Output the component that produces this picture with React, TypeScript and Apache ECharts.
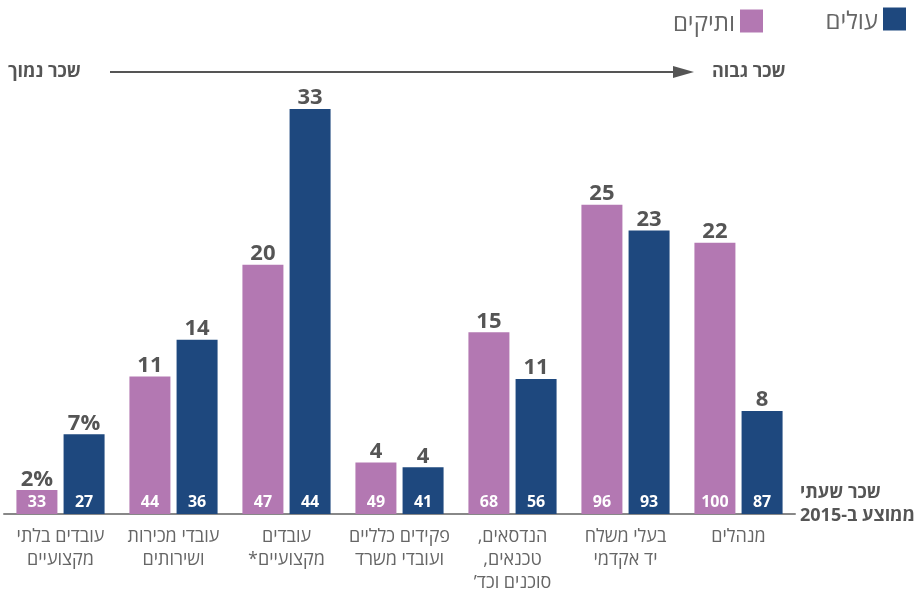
import React, { useEffect, useRef } from "react";
import * as echarts from "echarts";

const categories = [
  "עובדים בלתי\nמקצועיים",
  "עובדי מכירות\nושירותים",
  "עובדים\n*מקצועיים",
  "פקידים כלליים\nועובדי משרד",
  ",הנדסאים\n,טכנאים\n’סוכנים וכד",
  "בעלי משלח\nיד אקדמי",
  "מנהלים",
];
// share of employees (%) – bar heights
const veteranShare = [1.95, 11.2, 20.3, 4.2, 14.8, 25.2, 22.1];
const immigrantShare = [6.5, 14.2, 33.0, 3.8, 11.0, 23.1, 8.4];
// average hourly wage index 2015 – numbers inside bars
const veteranWage = [33, 44, 47, 49, 68, 96, 100];
const immigrantWage = [27, 36, 44, 41, 56, 93, 87];

const VET = "ותיקים";
const IMM = "עולים";
const PURPLE = "#B378B2";
const BLUE = "#1E487E";
const FONT = "'Open Sans', 'DejaVu Sans', sans-serif";

export default function App() {
  const ref = useRef<HTMLDivElement>(null);
  useEffect(() => {
    if (!ref.current) return;
    const chart = echarts.init(ref.current, undefined, { renderer: "svg" });
    const topLabel = (arr: number[]) => ({
      show: true,
      position: "top" as const,
      distance: 5,
      color: "#555",
      fontSize: 22,
      lineHeight: 17,
      fontWeight: "bold" as const,
      fontFamily: FONT,
      formatter: (p: any) =>
        Math.round(arr[p.dataIndex]) + (p.dataIndex === 0 ? "%" : ""),
    });
    const insideLabel = (arr: number[]) => ({
      show: true,
      position: "insideBottom" as const,
      distance: 7,
      color: "#fff",
      fontSize: 16,
      lineHeight: 12,
      fontWeight: "bold" as const,
      fontFamily: FONT,
      formatter: (p: any) => String(arr[p.dataIndex]),
    });
    chart.setOption({
      animation: false,
      textStyle: { fontFamily: FONT },
      grid: { left: 4, right: 126, top: 23, bottom: 77, containLabel: false },
      legend: [
        {
          data: [IMM],
          right: 15,
          top: 7,
          padding: 0,
          itemWidth: 23,
          itemHeight: 23,
          align: "right",
          icon: "rect",
          textStyle: { fontSize: 24, color: "#666", fontFamily: FONT },
        },
        {
          data: [VET],
          right: 158,
          top: 9,
          padding: 0,
          itemWidth: 23,
          itemHeight: 23,
          align: "right",
          icon: "rect",
          textStyle: { fontSize: 24, color: "#666", fontFamily: FONT },
        },
      ],
      xAxis: {
        type: "category",
        data: categories,
        axisLine: { show: true, lineStyle: { color: "#888", width: 2 } },
        axisTick: { show: false },
        axisLabel: {
          color: "#666",
          fontSize: 18,
          lineHeight: 23,
          margin: 9,
          fontFamily: FONT,
          interval: 0,
        },
      },
      yAxis: {
        type: "value",
        min: 0,
        max: 40,
        show: false,
        splitLine: { show: false },
      },
      series: [
        {
          name: VET,
          type: "bar",
          stack: "vet",
          data: veteranShare,
          barWidth: 41,
          barGap: "15%",
          itemStyle: { color: PURPLE },
          label: insideLabel(veteranWage),
        },
        {
          name: "vet-label",
          type: "bar",
          stack: "vet",
          data: veteranShare.map(() => 0),
          barWidth: 41,
          barGap: "15%",
          itemStyle: { color: PURPLE },
          label: topLabel(veteranShare),
        },
        {
          name: IMM,
          type: "bar",
          stack: "imm",
          data: immigrantShare,
          barWidth: 41,
          barGap: "15%",
          itemStyle: { color: BLUE },
          label: insideLabel(immigrantWage),
        },
        {
          name: "imm-label",
          type: "bar",
          stack: "imm",
          data: immigrantShare.map(() => 0),
          barWidth: 41,
          barGap: "15%",
          itemStyle: { color: BLUE },
          label: topLabel(immigrantShare),
        },
      ],
      graphic: [
        {
          type: "text",
          left: 8,
          top: 61,
          style: {
            text: "שכר נמוך",
            fill: "#555",
            fontSize: 18,
            fontWeight: "bold",
            fontFamily: FONT,
          },
        },
        {
          type: "line",
          shape: { x1: 110, y1: 72, x2: 678, y2: 72 },
          style: { stroke: "#555", lineWidth: 2 },
        },
        {
          type: "polygon",
          shape: { points: [[673, 66], [694, 72], [673, 78]] },
          style: { fill: "#555" },
        },
        {
          type: "text",
          left: 712,
          top: 61,
          style: {
            text: "שכר גבוה",
            fill: "#555",
            fontSize: 18,
            fontWeight: "bold",
            fontFamily: FONT,
          },
        },
        {
          type: "text",
          left: 800,
          top: 479,
          style: {
            text: "שכר שעתי\nממוצע ב-2015",
            fill: "#555",
            fontSize: 18,
            lineHeight: 23,
            fontWeight: "bold",
            fontFamily: FONT,
          },
        },
      ],
    });
    return () => chart.dispose();
  }, []);
  return (
    <div
      ref={ref}
      style={{ position: "fixed", left: 0, top: 0, width: 921, height: 592 }}
    />
  );
}
